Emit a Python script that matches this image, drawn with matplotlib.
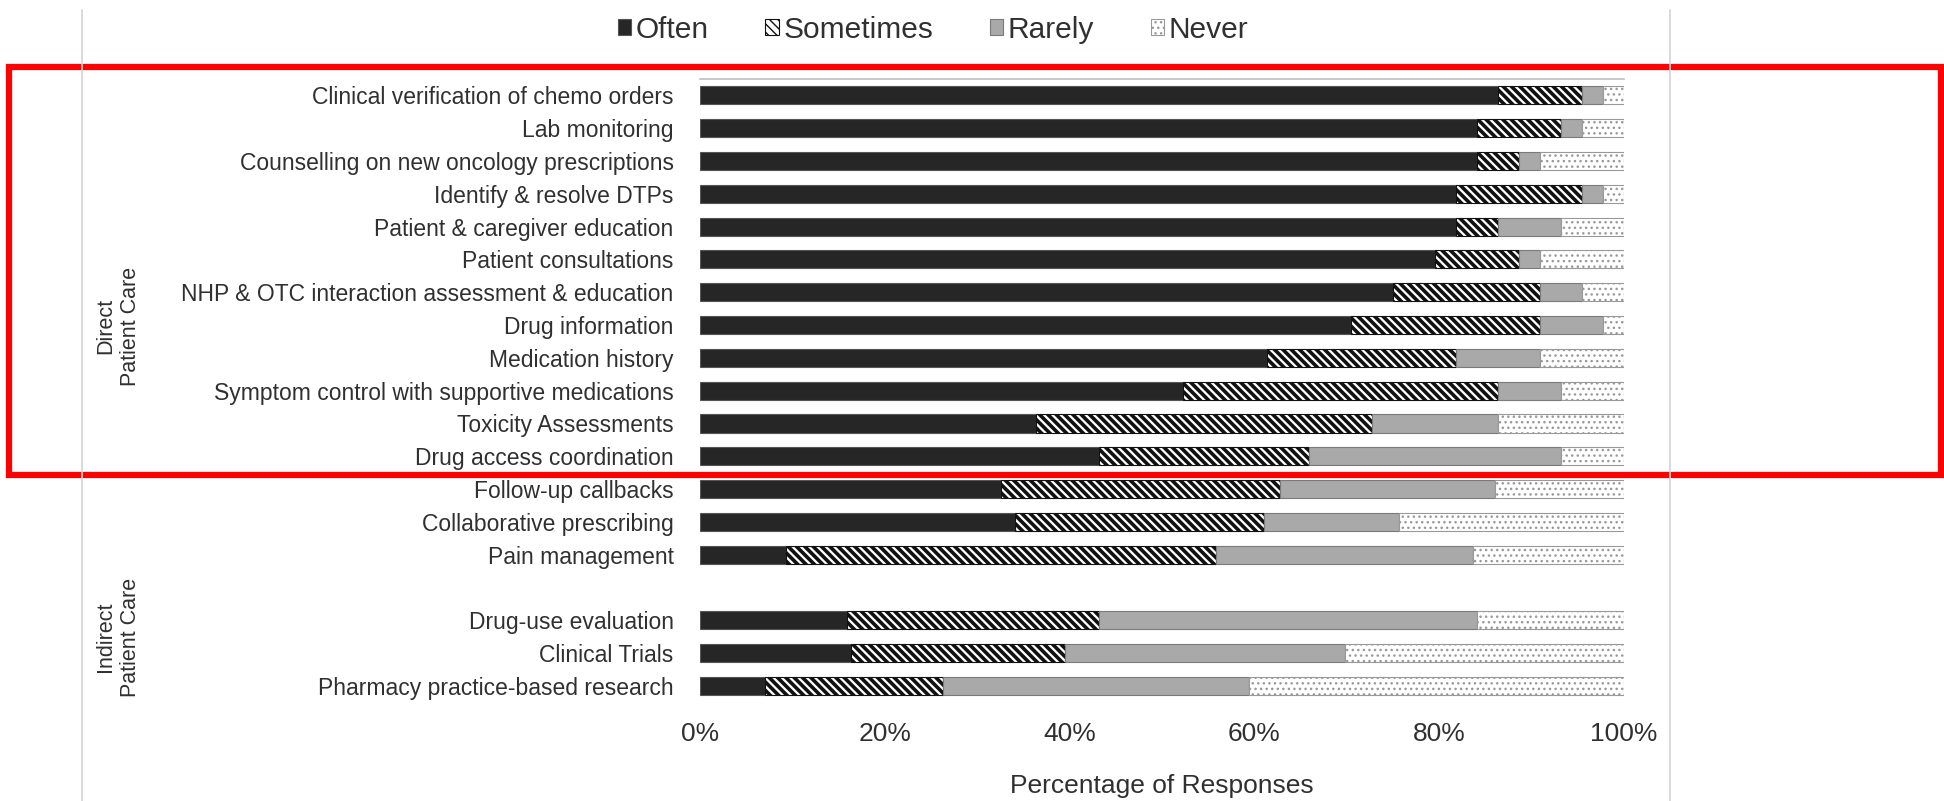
import numpy as np
import matplotlib
matplotlib.use("Agg")
import matplotlib.pyplot as plt
from matplotlib.patches import Rectangle, Patch
from matplotlib.lines import Line2D

plt.rcParams['font.family'] = ['Liberation Sans', 'DejaVu Sans']

# data (percentage of responses)
direct_tasks = [
    "Clinical verification of chemo orders",
    "Lab monitoring",
    "Counselling on new oncology prescriptions",
    "Identify & resolve DTPs",
    "Patient & caregiver education",
    "Patient consultations",
    "NHP & OTC interaction assessment & education",
    "Drug information",
    "Medication history",
    "Symptom control with supportive medications",
    "Toxicity Assessments",
    "Drug access coordination",
    "Follow-up callbacks",
    "Collaborative prescribing",
    "Pain management",
]
indirect_tasks = [
    "Drug-use evaluation",
    "Clinical Trials",
    "Pharmacy practice-based research",
]
often = [86.4, 84.1, 84.1, 81.8, 81.8, 79.5, 75.0, 70.5, 61.4, 52.3, 36.4, 43.2,
         32.6, 34.1, 9.3, 15.9, 16.3, 7.0]
sometimes = [9.1, 9.1, 4.5, 13.7, 4.6, 9.1, 15.9, 20.4, 20.4, 34.1, 36.3, 22.7,
             30.2, 26.9, 46.5, 27.3, 23.2, 19.3]
rarely = [2.2, 2.3, 2.3, 2.2, 6.8, 2.3, 4.6, 6.8, 9.1, 6.8, 13.7, 27.3,
          23.2, 14.6, 27.9, 40.9, 30.3, 33.1]
never = [2.3, 4.5, 9.1, 2.3, 6.8, 9.1, 4.5, 2.3, 9.1, 6.8, 13.6, 6.8,
         14.0, 24.4, 16.3, 15.9, 30.2, 40.6]
responses = ["Often", "Sometimes", "Rarely", "Never"]
xticks = [0, 20, 40, 60, 80, 100]

# one empty slot between the two groups
ypos = list(range(len(direct_tasks))) + \
    list(range(len(direct_tasks) + 1, len(direct_tasks) + 1 + len(indirect_tasks)))
labels = direct_tasks + indirect_tasks

styles = [
    dict(color="#262626", edgecolor="#555555", hatch=None, hlw=1.0),
    dict(color="white", edgecolor="#111111", hatch="\\\\\\\\", hlw=2.6),
    dict(color="#a9a9a9", edgecolor="#7a7a7a", hatch=None, hlw=1.0),
    dict(color="white", edgecolor="#999999", hatch="...", hlw=1.0),
]

fig = plt.figure(figsize=(19.44, 8.01), dpi=100)
ax = fig.add_axes([0.3601, 0.1231, 0.4753, 0.7783])

left = np.zeros(len(often))
for name, vals, st in zip(responses, [often, sometimes, rarely, never], styles):
    with plt.rc_context({'hatch.linewidth': st["hlw"]}):
        ax.barh(ypos, vals, left=left, height=0.55, color=st["color"],
                edgecolor=st["edgecolor"], hatch=st["hatch"], linewidth=0.8, label=name)
    left += np.array(vals)

ax.set_xlim(0, 100)
ax.set_ylim(len(labels) + 0.5, -0.5)
ax.set_yticks(ypos)
ax.set_yticklabels(labels, fontsize=16.5, color="#303030")
ax.set_xticks(xticks)
ax.set_xticklabels([f"{t}%" for t in xticks], fontsize=19, color="#303030")
ax.tick_params(axis='y', length=0, pad=19)
ax.tick_params(axis='x', length=0, pad=14)
ax.set_xlabel("Percentage of Responses", fontsize=19, color="#303030", labelpad=20)
for s in ["left", "right", "bottom"]:
    ax.spines[s].set_visible(False)
ax.spines["top"].set_color("#bdbdbd")
ax.spines["top"].set_linewidth(1.2)

# group labels
fig.text(118 / 1944, 1 - 326 / 801, "Direct\nPatient Care", rotation=90,
         ha="center", va="center", fontsize=15.5, color="#303030", multialignment="center")
fig.text(118 / 1944, 1 - 637 / 801, "Indirect\nPatient Care", rotation=90,
         ha="center", va="center", fontsize=15.5, color="#303030", multialignment="center")

# legend
with plt.rc_context({'hatch.linewidth': 1.5}):
    handles = [Patch(facecolor=st["color"], edgecolor=st["edgecolor"], hatch=st["hatch"], linewidth=0.8)
               for st in styles]
fig.legend(handles, responses, loc="center", bbox_to_anchor=(0.48, 0.963), ncol=4,
           frameon=False, fontsize=21.5, handlelength=0.45, handleheight=0.45,
           handletextpad=0.15, columnspacing=1.9, labelcolor="#303030")

# frame lines of the original figure and the red highlight box
fig.add_artist(Line2D([82 / 1944, 82 / 1944], [0, 1 - 10 / 801], color="#d4d4d4", lw=1.2))
fig.add_artist(Line2D([1670 / 1944, 1670 / 1944], [0, 1 - 10 / 801], color="#d4d4d4", lw=1.2))
fig.add_artist(Rectangle((9 / 1944, 1 - 475 / 801), (1941 - 9) / 1944, (475 - 67) / 801,
                         transform=fig.transFigure, fill=False, edgecolor="#ff0000", lw=4.5))

fig.savefig("out.png", dpi=100)
